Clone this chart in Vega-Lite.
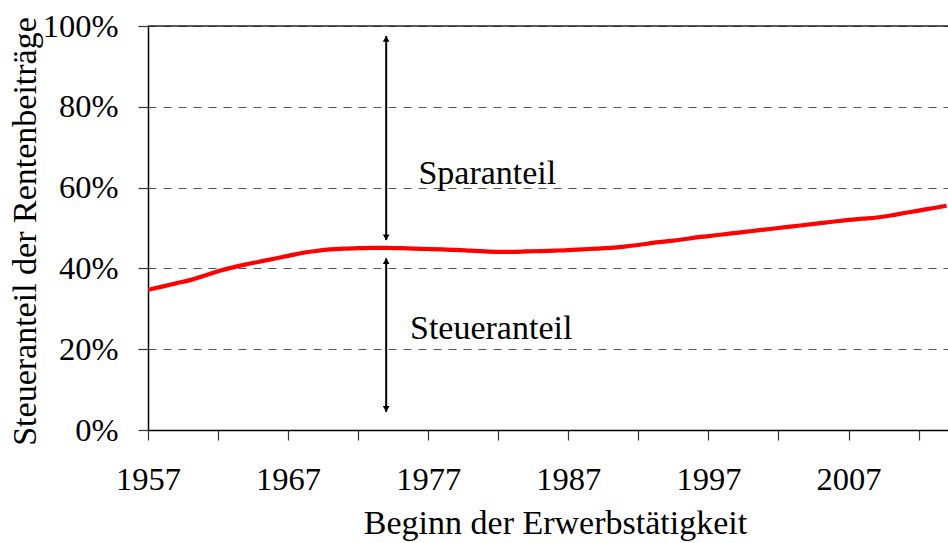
{
  "$schema": "https://vega.github.io/schema/vega-lite/v6.json",
  "width": 800,
  "height": 404,
  "autosize": {"type": "none"},
  "padding": {"left": 148, "top": 26, "right": 0, "bottom": 113},
  "background": "white",
  "config": {
    "view": {"stroke": null},
    "font": "Liberation Serif"
  },
  "datasets": {
    "series": [
      {"jahr": 1957, "anteil": 0.347}, {"jahr": 1958, "anteil": 0.355}, {"jahr": 1959, "anteil": 0.363},
      {"jahr": 1960, "anteil": 0.371}, {"jahr": 1961, "anteil": 0.382}, {"jahr": 1962, "anteil": 0.393},
      {"jahr": 1963, "anteil": 0.402}, {"jahr": 1964, "anteil": 0.410}, {"jahr": 1965, "anteil": 0.417},
      {"jahr": 1966, "anteil": 0.424}, {"jahr": 1967, "anteil": 0.431}, {"jahr": 1968, "anteil": 0.438},
      {"jahr": 1969, "anteil": 0.443}, {"jahr": 1970, "anteil": 0.447}, {"jahr": 1971, "anteil": 0.449},
      {"jahr": 1972, "anteil": 0.450}, {"jahr": 1973, "anteil": 0.451}, {"jahr": 1974, "anteil": 0.451},
      {"jahr": 1975, "anteil": 0.450}, {"jahr": 1976, "anteil": 0.449}, {"jahr": 1977, "anteil": 0.448},
      {"jahr": 1978, "anteil": 0.447}, {"jahr": 1979, "anteil": 0.446}, {"jahr": 1980, "anteil": 0.444},
      {"jahr": 1981, "anteil": 0.442}, {"jahr": 1982, "anteil": 0.441}, {"jahr": 1983, "anteil": 0.441},
      {"jahr": 1984, "anteil": 0.442}, {"jahr": 1985, "anteil": 0.443}, {"jahr": 1986, "anteil": 0.444},
      {"jahr": 1987, "anteil": 0.445}, {"jahr": 1988, "anteil": 0.447}, {"jahr": 1989, "anteil": 0.449},
      {"jahr": 1990, "anteil": 0.451}, {"jahr": 1991, "anteil": 0.454}, {"jahr": 1992, "anteil": 0.458},
      {"jahr": 1993, "anteil": 0.463}, {"jahr": 1994, "anteil": 0.467}, {"jahr": 1995, "anteil": 0.471},
      {"jahr": 1996, "anteil": 0.476}, {"jahr": 1997, "anteil": 0.480}, {"jahr": 1998, "anteil": 0.484},
      {"jahr": 1999, "anteil": 0.488}, {"jahr": 2000, "anteil": 0.492}, {"jahr": 2001, "anteil": 0.496},
      {"jahr": 2002, "anteil": 0.500}, {"jahr": 2003, "anteil": 0.504}, {"jahr": 2004, "anteil": 0.508},
      {"jahr": 2005, "anteil": 0.512}, {"jahr": 2006, "anteil": 0.516}, {"jahr": 2007, "anteil": 0.520},
      {"jahr": 2008, "anteil": 0.523}, {"jahr": 2009, "anteil": 0.526}, {"jahr": 2010, "anteil": 0.531},
      {"jahr": 2011, "anteil": 0.537}, {"jahr": 2012, "anteil": 0.543}, {"jahr": 2013, "anteil": 0.549},
      {"jahr": 2014, "anteil": 0.555}
    ],
    "arrows": [
      {"jahr": 1974, "von": 0.975, "bis": 0.470},
      {"jahr": 1974, "von": 0.425, "bis": 0.045}
    ],
    "heads": [
      {"jahr": 1974, "pos": 0.968, "form": "triangle-up"},
      {"jahr": 1974, "pos": 0.477, "form": "triangle-down"},
      {"jahr": 1974, "pos": 0.418, "form": "triangle-up"},
      {"jahr": 1974, "pos": 0.052, "form": "triangle-down"}
    ],
    "labels": [
      {"jahr": 1976.3, "pos": 0.633, "text": "Sparanteil"},
      {"jahr": 1975.7, "pos": 0.25, "text": "Steueranteil"}
    ],
    "top": [{"pos": 1}]
  },
  "layer": [
    {
      "data": {"name": "series"},
      "mark": {"type": "line", "color": "#FF0000", "strokeWidth": 4.2, "interpolate": "monotone", "clip": true},
      "encoding": {
        "x": {
          "field": "jahr", "type": "quantitative",
          "scale": {"domain": [1957, 2014.1], "nice": false, "zero": false},
          "axis": {
            "title": "Beginn der Erwerbstätigkeit",
            "values": [1957, 1962, 1967, 1972, 1977, 1982, 1987, 1992, 1997, 2002, 2007, 2012],
            "format": "d",
            "labelExpr": "(datum.value - 1957) % 10 == 0 ? datum.label : ''",
            "grid": false,
            "domainColor": "#000000",
            "domainWidth": 1.5,
            "tickColor": "#333333",
            "tickSize": 10,
            "tickWidth": 1.2,
            "labelFont": "Liberation Serif",
            "labelFontSize": 32.5,
            "labelColor": "#000000",
            "labelPadding": 49,
            "labelBaseline": "alphabetic",
            "labelFlush": false,
            "labelOverlap": false,
            "titleFont": "Liberation Serif",
            "titleFontSize": 34,
            "titleFontWeight": "normal",
            "titleColor": "#000000",
            "titleX": 407,
            "titleY": 103,
            "titleAlign": "center",
            "titleBaseline": "alphabetic"
          }
        },
        "y": {
          "field": "anteil", "type": "quantitative",
          "scale": {"domain": [0, 1], "nice": false},
          "axis": {
            "title": "Steueranteil der Rentenbeiträge",
            "values": [0, 0.2, 0.4, 0.6, 0.8, 1],
            "format": ".0%",
            "grid": true,
            "gridColor": "#555555",
            "gridDash": [8, 7],
            "gridWidth": 1,
            "domainColor": "#000000",
            "domainWidth": 1.5,
            "tickColor": "#333333",
            "tickSize": 10,
            "tickWidth": 1.2,
            "labelFont": "Liberation Serif",
            "labelFontSize": 32.5,
            "labelColor": "#000000",
            "labelPadding": 20,
            "labelBaseline": "middle",
            "labelFlush": false,
            "labelOverlap": false,
            "titleFont": "Liberation Serif",
            "titleFontSize": 34,
            "titleFontWeight": "normal",
            "titleColor": "#000000",
            "titleX": -123,
            "titleY": 205,
            "titleAngle": -90,
            "titleAlign": "center",
            "titleBaseline": "middle"
          }
        }
      }
    },
    {
      "data": {"name": "top"},
      "mark": {"type": "rule", "color": "#222222", "strokeWidth": 1.5},
      "encoding": {"y": {"field": "pos", "type": "quantitative"}}
    },
    {
      "data": {"name": "arrows"},
      "mark": {"type": "rule", "color": "#000000", "strokeWidth": 2},
      "encoding": {
        "x": {"field": "jahr", "type": "quantitative"},
        "y": {"field": "von", "type": "quantitative"},
        "y2": {"field": "bis"}
      }
    },
    {
      "data": {"name": "heads"},
      "mark": {"type": "point", "filled": true, "color": "#000000", "size": 45, "opacity": 1},
      "encoding": {
        "x": {"field": "jahr", "type": "quantitative"},
        "y": {"field": "pos", "type": "quantitative"},
        "shape": {"field": "form", "type": "nominal", "scale": null, "legend": null}
      }
    },
    {
      "data": {"name": "labels"},
      "mark": {"type": "text", "align": "left", "baseline": "middle", "font": "Liberation Serif", "fontSize": 34, "color": "#000000"},
      "encoding": {
        "x": {"field": "jahr", "type": "quantitative"},
        "y": {"field": "pos", "type": "quantitative"},
        "text": {"field": "text", "type": "nominal"}
      }
    }
  ]
}
